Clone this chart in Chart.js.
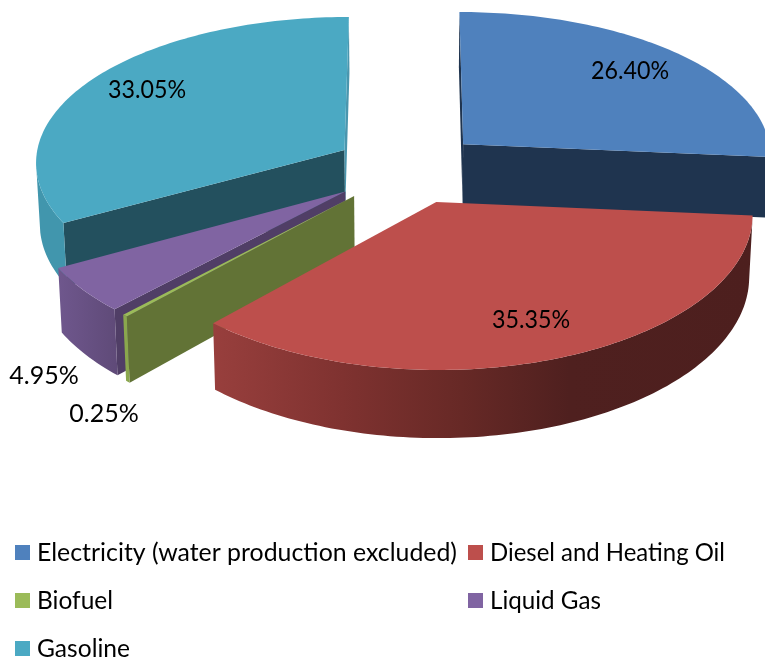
<!DOCTYPE html>
<html>
<head>
<meta charset="utf-8">
<style>
  html, body { margin: 0; padding: 0; background: #fff; }
  canvas { display: block; }
</style>
<script src="https://cdn.jsdelivr.net/npm/chart.js@4"></script>
</head>
<body>
<canvas id="energy" width="765" height="659"></canvas>
<script>
// Energy consumption by source, shown as an exploded 3D pie.
const categories = ['Electricity (water production excluded)', 'Diesel and Heating Oil', 'Biofuel', 'Liquid Gas', 'Gasoline'];
const shares = [26.40, 35.35, 0.25, 4.95, 33.05];
const explode = [300, 300, 316, 316, 300];

const topColors = ['#4F81BD', '#BD4F4C', '#9BBB59', '#8064A2', '#4BA9C3'];
const startWallColors = ['#1F344F', '#4E1F1E', '#627336', '#503E66', '#23505E'];
const endWallColors = ['#1F344F', '#4E1F1E', '#627336', '#503E66', '#4A96AE'];
const rimStops = [
  [[0, '#1F344F'], [1, '#1F344F']],
  [[0.0, '#983F3D'], [0.24, '#7F3230'], [0.46, '#672926'], [0.66, '#4F201F'], [1, '#4D1F1E']],
  [[0, '#8AA74D'], [1, '#8AA74D']],
  [[0, '#6F578D'], [1, '#5F4A78']],
  [[0, '#4196AD'], [1, '#4196AD']]
];
const labelSpots = [[630, 71], [531, 320], [104, 414], [44, 376], [147, 90]];
const legendSpots = [[15, 545], [468, 545], [15, 593], [468, 593], [15, 641]];
const legendWidths = [420, 235, 76, 111, 93];

// Oblique camera: the flat pie plane is tilted and given a slight perspective.
const view = { cx: 408.5, cy: 168, squash: 0.4757, persp: 0.000277, perspX: 0.00024, depth: 61, taper: 0.01 };
const project = (X, Y, z) => {
  const w = 1 / (1 - view.persp * Y);
  const wx = 1 / (1 - view.perspX * Y);
  return [view.cx + X * wx * (1 - view.taper * z), view.cy + view.squash * Y * w + z * view.depth * w];
};

function polygon(ctx, pts, fill) {
  ctx.beginPath();
  pts.forEach((p, i) => i ? ctx.lineTo(p[0], p[1]) : ctx.moveTo(p[0], p[1]));
  ctx.closePath();
  ctx.fillStyle = fill;
  ctx.fill();
}

function faces(p) {
  let s = 0;
  for (let i = 0; i < p.length; i++) {
    const q = p[(i + 1) % p.length];
    s += p[i][0] * q[1] - q[0] * p[i][1];
  }
  return s < 0;
}

const solidPie = {
  id: 'solidPie',
  beforeDatasetsDraw(chart) {
    const ctx = chart.ctx;
    const arcs = chart.getDatasetMeta(0).data;
    const info = arcs.map((arc, i) => {
      const mid = (arc.startAngle + arc.endAngle) / 2;
      const shift = arc.options.offset / 4;
      return { arc, i, ox: Math.cos(mid) * shift, oy: Math.sin(mid) * shift };
    }).sort((a, b) => a.oy - b.oy);

    info.forEach(({ arc, i, ox, oy }) => {
      const r = arc.outerRadius;
      const at = (t, z) => project(ox + r * Math.cos(t), oy + r * Math.sin(t), z);
      const steps = Math.max(2, Math.ceil((arc.endAngle - arc.startAngle) / 0.02));
      const rim = [];
      for (let k = 0; k <= steps; k++) rim.push(arc.startAngle + (arc.endAngle - arc.startAngle) * k / steps);
      const hub = z => project(ox, oy, z);

      // Cut faces
      const startFace = [hub(0), at(rim[0], 0), at(rim[0], 1), hub(1)];
      const endFace = [at(rim[steps], 0), hub(0), hub(1), at(rim[steps], 1)];
      if (faces(startFace)) polygon(ctx, startFace, startWallColors[i]);
      if (faces(endFace)) polygon(ctx, endFace, endWallColors[i]);

      // Curved outer wall, shaded across its visible width
      const seen = [];
      for (let k = 0; k <= steps; k++) {
        const a = k < steps ? k : k - 1;
        if (faces([at(rim[a], 0), at(rim[a + 1], 0), at(rim[a + 1], 1), at(rim[a], 1)])) seen.push(rim[k]);
      }
      if (seen.length > 1) {
        const wall = seen.map(t => at(t, 0)).concat(seen.slice().reverse().map(t => at(t, 1)));
        const xs = wall.map(p => p[0]);
        const g = ctx.createLinearGradient(Math.min(...xs), 0, Math.max(...xs), 0);
        rimStops[i].forEach(([o, c]) => g.addColorStop(o, c));
        polygon(ctx, wall, g);
      }

      // Top face
      polygon(ctx, [hub(0)].concat(rim.map(t => at(t, 0))), topColors[i]);
    });
    return false;
  },
  afterDraw(chart) {
    const ctx = chart.ctx;
    ctx.save();
    ctx.fillStyle = '#000';
    ctx.font = '25px Lato';
    ctx.textAlign = 'center';
    ctx.textBaseline = 'alphabetic';
    shares.forEach((v, i) => {
      ctx.fillText(v.toFixed(2) + '%', labelSpots[i][0], labelSpots[i][1] + 8, 78);
    });
    ctx.textAlign = 'left';
    chart.data.labels.forEach((name, i) => {
      const [x, y] = legendSpots[i];
      ctx.fillStyle = topColors[i];
      ctx.fillRect(x, y, 15, 15);
      ctx.fillStyle = '#000';
      ctx.fillText(name, x + 22, y + 16, legendWidths[i]);
    });
    ctx.restore();
  }
};

new Chart(document.getElementById('energy'), {
  type: 'pie',
  data: {
    labels: categories,
    datasets: [{ data: shares, offset: explode, backgroundColor: topColors, borderWidth: 0 }]
  },
  options: {
    responsive: false,
    animation: false,
    radius: 310,
    plugins: { legend: { display: false }, tooltip: { enabled: false } }
  },
  plugins: [solidPie]
});
</script>
</body>
</html>
